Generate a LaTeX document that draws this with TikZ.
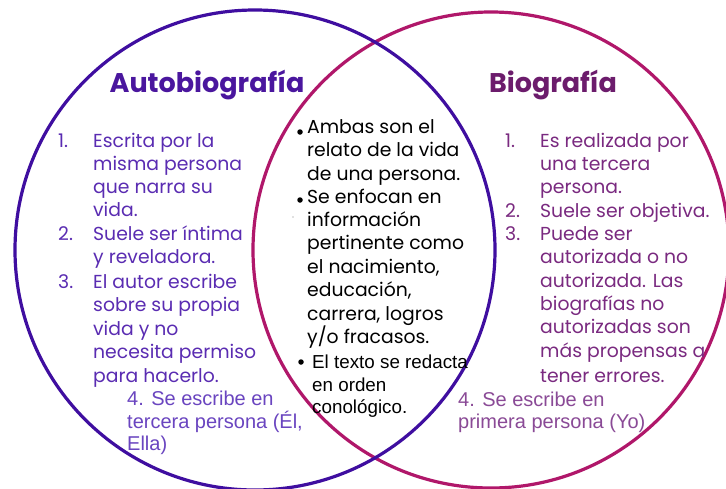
\documentclass[tikz,border=0pt]{standalone}
\usepackage{fontspec}
\setmainfont{Liberation Sans}
\newfontfamily\gothic{Poppins}
\definecolor{leftcirc}{HTML}{3F0EA0}
\definecolor{rightcirc}{HTML}{B0176A}
\definecolor{ltitle}{HTML}{4A169E}
\definecolor{rtitle}{HTML}{6C1C6C}
\definecolor{ltext}{HTML}{5A2CB2}
\definecolor{rtext}{HTML}{7A2A80}
\definecolor{lfour}{HTML}{6A45C0}
\definecolor{rfour}{HTML}{8A4A96}
\tikzset{
  circ/.style={line width=3.2pt},
  gtxt/.style={anchor=base west, inner sep=0pt, font=\gothic\fontsize{18.8}{19}\selectfont},
  atxt/.style={anchor=base west, inner sep=0pt, font=\fontsize{20}{20}\selectfont},
  ctxt/.style={anchor=base west, inner sep=0pt, font=\fontsize{18.8}{19}\selectfont, text=black},
  ttl/.style={anchor=base, inner sep=0pt, font=\gothic\bfseries\fontsize{27}{27}\selectfont},
  bul/.style={circle, fill=black, inner sep=0pt, minimum size=5.5pt}
}
\begin{document}
\begin{tikzpicture}[x=1pt,y=-1pt]
\useasboundingbox (0,0) rectangle (726,488);
\clip (0,0) rectangle (726,488);
\fill[white] (0,0) rectangle (726,488);
\draw[circ, rightcirc] (491,250) circle[radius=238pt];
\draw[circ, leftcirc] (255,250) circle[radius=240pt];
% titles
\node[ttl, text=ltitle] (tA) at (207,92) {Autobiografía};
\node[ttl, text=rtitle] (tB) at (553,92) {Biografía};
% left list
\begin{scope}[every node/.append style={gtxt, text=ltext}]
\node (ln1) at (58,147) {1.};
\node (la1) at (93,147) {Escrita por la};
\node (la2) at (93,170) {misma persona};
\node (la3) at (93,193) {que narra su};
\node (la4) at (93,216) {vida.};
\node (ln2) at (58,240) {2.};
\node (lb1) at (93,240) {Suele ser íntima};
\node (lb2) at (93,263) {y reveladora.};
\node (ln3) at (58,288) {3.};
\node (lc1) at (93,288) {El autor escribe};
\node (lc2) at (93,311) {sobre su propia};
\node (lc3) at (93,335) {vida y no};
\node (lc4) at (93,358) {necesita permiso};
\node (lc5) at (93,382) {para hacerlo.};
\end{scope}
\begin{scope}[every node/.append style={atxt, text=lfour}]
\node (ld1) at (127,405) {4. Se escribe en};
\node (ld2) at (127,428) {tercera persona (Él,};
\node (ld3) at (127,450) {Ella)};
\end{scope}
% center
\node[bul] (b1) at (300,132) {};
\node[bul] (b2) at (300,200) {};
\node[bul] (b3) at (301,362) {};
\begin{scope}[every node/.append style={gtxt, text=black}]
\node (ca1) at (307,133) {Ambas son el};
\node (ca2) at (307,156) {relato de la vida};
\node (ca3) at (307,180) {de una persona.};
\node (cb1) at (307,203) {Se enfocan en};
\node (cb2) at (307,226) {información};
\node (cb3) at (307,249) {pertinente como};
\node (cb4) at (307,273) {el nacimiento,};
\node (cb5) at (307,296) {educación,};
\node (cb6) at (307,320) {carrera, logros};
\node (cb7) at (307,343) {y/o fracasos.};
\end{scope}
\begin{scope}[every node/.append style={ctxt}]
\node (cc1) at (312,368) {El texto se redacta};
\node (cc2) at (312,391) {en orden};
\node (cc3) at (312,413) {conológico.};
\end{scope}
\fill[gray] (293,217) circle[radius=0.6pt];
% right list
\begin{scope}[every node/.append style={gtxt, text=rtext}]
\node (rn1) at (505,147) {1.};
\node (ra1) at (540,147) {Es realizada por};
\node (ra2) at (540,170) {una tercera};
\node (ra3) at (540,193) {persona.};
\node (rn2) at (505,217) {2.};
\node (rb1) at (540,217) {Suele ser objetiva.};
\node (rn3) at (505,240) {3.};
\node (rc1) at (540,240) {Puede ser};
\node (rc2) at (540,263) {autorizada o no};
\node (rc3) at (540,287) {autorizada. Las};
\node (rc4) at (540,310) {biografías no};
\node (rc5) at (540,333) {autorizadas son};
\node (rc6) at (540,357) {más propensas a};
\node (rc7) at (540,382) {tener errores.};
\end{scope}
\begin{scope}[every node/.append style={atxt, text=rfour}]
\node (rd1) at (458,406) {4. Se escribe en};
\node (rd2) at (458,428) {primera persona (Yo)};
\end{scope}
\end{tikzpicture}
\end{document}
